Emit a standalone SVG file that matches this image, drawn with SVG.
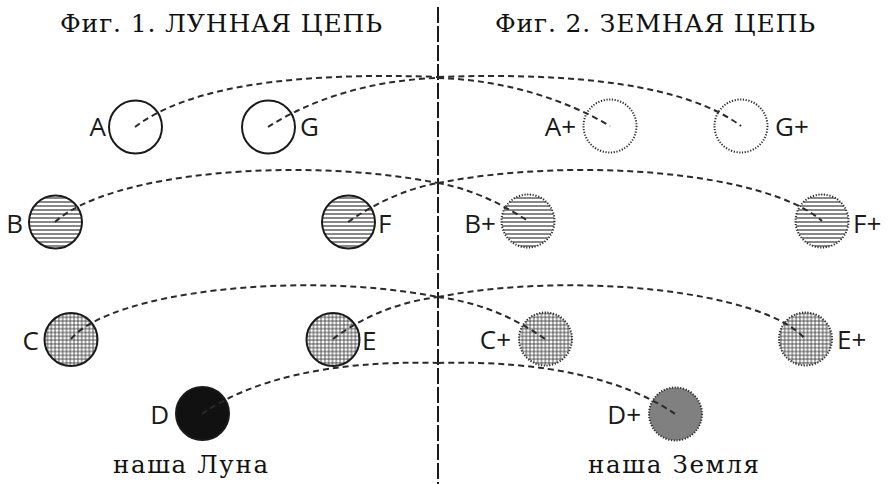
<svg xmlns="http://www.w3.org/2000/svg" width="892" height="484" viewBox="0 0 892 484">
<style>
.title{font-family:"DejaVu Serif","Liberation Serif",serif;font-size:25px;fill:#111}
.cap{font-family:"DejaVu Serif","Liberation Serif",serif;font-size:24.5px;fill:#111}
.lbl{font-family:"Open Sans","Liberation Sans",sans-serif;font-size:26px;fill:#1a1a1a}
.solid{stroke:#1a1a1a;stroke-width:2}
.dot{stroke:#2a2a2a;stroke-width:2;stroke-dasharray:1.2 1.6}
.conn{fill:none;stroke:#2a2a2a;stroke-width:2;stroke-dasharray:6 4}
.divider{stroke:#1a1a1a;stroke-width:2;stroke-dasharray:16 3}
</style>
<defs>
<pattern id="stripes" patternUnits="userSpaceOnUse" width="8" height="4">
<rect width="8" height="4" fill="#ffffff"/>
<line x1="0" y1="2" x2="8" y2="2" stroke="#555" stroke-width="1.4"/>
</pattern>
<pattern id="grid" patternUnits="userSpaceOnUse" width="3.8" height="3.8">
<rect width="3.8" height="3.8" fill="#ffffff"/>
<line x1="0" y1="1.9" x2="3.8" y2="1.9" stroke="#3a3a3a" stroke-width="0.85"/>
<line x1="1.9" y1="0" x2="1.9" y2="3.8" stroke="#3a3a3a" stroke-width="0.85"/>
</pattern>
</defs>
<rect width="892" height="484" fill="#ffffff"/>

<g id="titles">
<text class="title" x="60" y="32" textLength="322" lengthAdjust="spacing">Фиг. 1. ЛУННАЯ ЦЕПЬ</text>
<text class="title" x="495" y="32" textLength="320" lengthAdjust="spacing">Фиг. 2. ЗЕМНАЯ ЦЕПЬ</text>
</g>

<line id="divider" class="divider" x1="438" y1="7" x2="438" y2="484"/>

<g id="node-A"><circle cx="135.5" cy="127" r="26.5" fill="#fff" class="solid"/><text class="lbl" x="106" y="136" text-anchor="end">A</text></g>
<g id="node-G"><circle cx="268.5" cy="127" r="26.5" fill="#fff" class="solid"/><text class="lbl" x="300" y="136">G</text></g>
<g id="node-Aplus"><circle cx="610" cy="126" r="26.5" fill="#fff" class="dot"/><text class="lbl" x="576" y="136" text-anchor="end">A+</text></g>
<g id="node-Gplus"><circle cx="741" cy="126" r="26.5" fill="#fff" class="dot"/><text class="lbl" x="775" y="136">G+</text></g>

<g id="node-B"><circle cx="55.5" cy="222" r="26.5" fill="url(#stripes)" class="solid"/><text class="lbl" x="23" y="233" text-anchor="end">B</text></g>
<g id="node-F"><circle cx="348.5" cy="222" r="26.5" fill="url(#stripes)" class="solid"/><text class="lbl" x="378" y="233">F</text></g>
<g id="node-Bplus"><circle cx="528" cy="221" r="26.5" fill="url(#stripes)" class="dot"/><text class="lbl" x="496" y="233" text-anchor="end">B+</text></g>
<g id="node-Fplus"><circle cx="822" cy="221" r="26.5" fill="url(#stripes)" class="dot"/><text class="lbl" x="853" y="233">F+</text></g>

<g id="node-C"><circle cx="71" cy="339.5" r="26.5" fill="url(#grid)" class="solid"/><text class="lbl" x="39" y="350" text-anchor="end">C</text></g>
<g id="node-E"><circle cx="333" cy="339.5" r="26.5" fill="url(#grid)" class="solid"/><text class="lbl" x="362" y="350">E</text></g>
<g id="node-Cplus"><circle cx="545.5" cy="339" r="26.5" fill="url(#grid)" class="dot"/><text class="lbl" x="511" y="349" text-anchor="end">C+</text></g>
<g id="node-Eplus"><circle cx="805.5" cy="339" r="26.5" fill="url(#grid)" class="dot"/><text class="lbl" x="837" y="349">E+</text></g>

<g id="node-D"><circle cx="202.5" cy="413.5" r="26.5" fill="#111" class="solid"/><text class="lbl" x="169" y="424" text-anchor="end">D</text></g>
<g id="node-Dplus"><circle cx="675.5" cy="414" r="26.5" fill="#808080" class="dot"/><text class="lbl" x="641" y="424" text-anchor="end">D+</text></g>

<g id="connectors">
<path class="conn" d="M135,127 C190,85 300,72 438,77"/>
<path class="conn" d="M438,77 C576,72 686,85 741,126"/>
<path class="conn" d="M268,127 C310,100 370,80 438,78"/>
<path class="conn" d="M438,78 C506,80 566,100 610,126"/>
<path class="conn" d="M55,222 C110,172 300,156 438,183"/>
<path class="conn" d="M438,183 C576,156 766,172 822,221"/>
<path class="conn" d="M348,222 C380,200 410,188 438,183"/>
<path class="conn" d="M438,183 C466,188 496,200 528,221"/>
<path class="conn" d="M71,339 C110,292 300,270 438,297"/>
<path class="conn" d="M438,297 C576,270 766,292 805,339"/>
<path class="conn" d="M333,339 C365,315 400,302 438,297"/>
<path class="conn" d="M438,297 C476,302 511,315 545,339"/>
<path class="conn" d="M202,414 C250,380 330,360 438,363"/>
<path class="conn" d="M438,363 C546,360 626,380 675,414"/>
</g>

<g id="captions">
<text class="cap" x="113" y="473" textLength="155" lengthAdjust="spacing">наша Луна</text>
<text class="cap" x="588" y="473" textLength="171" lengthAdjust="spacing">наша Земля</text>
</g>
</svg>
